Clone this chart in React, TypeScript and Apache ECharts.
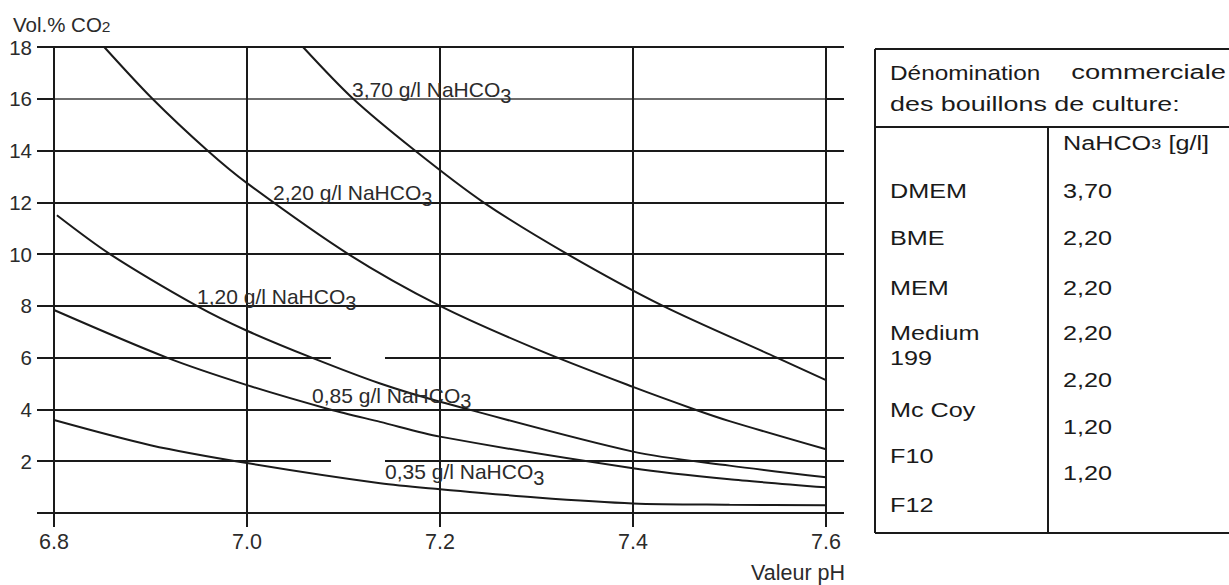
import React, { useEffect, useRef } from "react";
import * as echarts from "echarts";

// ---------- axes ----------
const PH_MIN = 6.8;
const PH_MAX = 7.6;
const PH_STEP = 0.2;
const CO2_MIN = 0;
const CO2_MAX = 18;
const CO2_STEP = 2;

// ---------- curves (pH, Vol.% CO2) ----------
const ph_370 = [7.058, 7.11, 7.174, 7.245, 7.332, 7.431, 7.549, 7.6];
const co2_370 = [18, 16, 14, 12, 10, 8, 6, 5.13];

const ph_220 = [6.852, 6.902, 6.959, 7.0, 7.105, 7.2, 7.3, 7.4, 7.464, 7.5, 7.6];
const co2_220 = [18, 16, 14, 12.74, 10, 8.0, 6.33, 4.87, 4.0, 3.55, 2.46];

const ph_120 = [6.803, 6.858, 6.948, 7.0, 7.067, 7.138, 7.2, 7.4, 7.5, 7.6];
const co2_120 = [11.5, 10, 8, 7.04, 6, 5.0, 4.3, 2.37, 1.83, 1.38];

const ph_085 = [6.8, 6.917, 7.0, 7.086, 7.138, 7.2, 7.4, 7.5, 7.6];
const co2_085 = [7.84, 6, 4.94, 4.0, 3.52, 2.95, 1.73, 1.3, 0.99];

const ph_035 = [6.8, 6.9, 7.0, 7.138, 7.2, 7.3, 7.4, 7.5, 7.602];
const co2_035 = [3.59, 2.62, 1.93, 1.15, 0.92, 0.6, 0.37, 0.32, 0.3];

const curveConc = ["3,70", "2,20", "1,20", "0,85", "0,35"];

// ---------- table ----------
const tableTitle1a = "Dénomination";
const tableTitle1b = "commerciale";
const tableTitle2 = "des bouillons de culture:";
const mediaNames = ["DMEM", "BME", "MEM", "Medium\n199", "Mc Coy", "F10", "F12"];
const mediaValues = ["3,70", "2,20", "2,20", "2,20", "2,20", "1,20", "1,20"];

const FONT = "'Liberation Sans', Arial, Helvetica, sans-serif";
const INK = "#1a1a1a";
const TXT = "#2b2b2b";

export default function App() {
  const ref = useRef<HTMLDivElement>(null);

  useEffect(() => {
    if (!ref.current) return;
    const chart = echarts.init(ref.current, null, { renderer: "svg" });

    const curves = [
      { ph: ph_370, co2: co2_370 },
      { ph: ph_220, co2: co2_220 },
      { ph: ph_120, co2: co2_120 },
      { ph: ph_085, co2: co2_085 },
      { ph: ph_035, co2: co2_035 },
    ];

    const splitColors = Array.from({ length: (CO2_MAX - CO2_MIN) / CO2_STEP + 1 }, (_, i) =>
      CO2_MIN + i * CO2_STEP === 16 ? "#6e6e6e" : INK
    );

    const xBase = {
      type: "value" as const,
      min: PH_MIN,
      max: PH_MAX,
      interval: PH_STEP,
    };
    const yBase = {
      type: "value" as const,
      min: CO2_MIN,
      max: CO2_MAX,
      interval: CO2_STEP,
    };

    chart.setOption({
      animation: false,
      grid: { left: 54, right: 403, top: 47, bottom: 72, containLabel: false },
      xAxis: [
        {
          ...xBase,
          position: "bottom",
          axisLine: { show: true, lineStyle: { color: INK, width: 2 } },
          axisTick: { show: true, length: 14, lineStyle: { color: INK, width: 2 } },
          axisLabel: {
            fontSize: 21.5,
            color: TXT,
            margin: 18,
            fontFamily: FONT,
            formatter: (v: number) => v.toFixed(1),
          },
          splitLine: { show: true, lineStyle: { color: INK, width: 2 } },
        },
        {
          ...xBase,
          position: "top",
          axisLine: { show: true, lineStyle: { color: INK, width: 2 } },
          axisTick: { show: true, length: 14, lineStyle: { color: INK, width: 2 } },
          axisLabel: { show: false },
          splitLine: { show: false },
        },
      ],
      yAxis: [
        {
          ...yBase,
          position: "left",
          axisLine: { show: true, lineStyle: { color: INK, width: 2 } },
          axisTick: { show: true, length: 17, lineStyle: { color: INK, width: 2 } },
          axisLabel: {
            fontSize: 20.5,
            color: TXT,
            margin: 22,
            fontFamily: FONT,
            formatter: (v: number) => (v === 0 ? "" : String(v)),
          },
          splitLine: { show: true, lineStyle: { color: splitColors, width: 2 } },
        },
        {
          ...yBase,
          position: "right",
          axisLine: { show: true, lineStyle: { color: INK, width: 2 } },
          axisTick: { show: true, length: 18, lineStyle: { color: INK, width: 2 } },
          axisLabel: { show: false },
          splitLine: { show: false },
        },
      ],
      series: curves.map((c, k) => ({
        name: curveConc[k] + " g/l NaHCO3",
        type: "line",
        xAxisIndex: 0,
        yAxisIndex: 0,
        data: c.ph.map((p, i) => [p, c.co2[i]]),
        smooth: 0.3,
        symbol: "none",
        silent: true,
        z: 3,
        lineStyle: { color: INK, width: 2 },
      })),
    });

    const toPx = (x: number, y: number) =>
      chart.convertToPixel({ xAxisIndex: 0, yAxisIndex: 0 }, [x, y]) as number[];

    const elements: any[] = [];

    // gaps in the 6 and 2 grid lines
    [6, 2].forEach((v) => {
      const a = toPx(7.087, v);
      const b = toPx(7.143, v);
      elements.push({
        type: "rect",
        z: 1,
        silent: true,
        shape: { x: a[0], y: a[1] - 3, width: b[0] - a[0], height: 6 },
        style: { fill: "#ffffff" },
      });
    });

    const subText = (
      x: number,
      baseline: number,
      main: string,
      sub: string,
      fs: number,
      subFs: number,
      shift: number,
      color: string,
      scaleX = 1,
      after?: string
    ) => ({
      type: "text",
      x,
      y: baseline - 0.35 * fs,
      z: 10,
      scaleX,
      silent: true,
      style: {
        text: `{m|${main}}{s|${sub}}` + (after ? `{g|${after}}` : ""),
        align: "left",
        verticalAlign: "middle",
        fontSize: fs,
        fontFamily: FONT,
        fill: color,
        rich: {
          m: { fontSize: fs, fontFamily: FONT, fill: color },
          s: { fontSize: subFs, fontFamily: FONT, fill: color, padding: [shift * 2, 0, 0, 0] },
          g: { fontSize: fs, fontFamily: FONT, fill: color, padding: [0, 0, 0, 6] },
        },
      },
    });

    const plainText = (
      x: number,
      baseline: number,
      text: string,
      fs: number,
      align: string,
      color: string,
      scaleX = 1
    ) => ({
      type: "text",
      x,
      y: baseline - 0.35 * fs,
      z: 10,
      scaleX,
      silent: true,
      style: {
        text,
        align,
        verticalAlign: "middle",
        fontSize: fs,
        fontFamily: FONT,
        fill: color,
      },
    });

    // curve labels
    const labelPos = [
      [352, 97],
      [273, 200],
      [197, 304],
      [312, 402.7],
      [385, 479.3],
    ];
    curveConc.forEach((c, i) => {
      elements.push(
        subText(labelPos[i][0], labelPos[i][1], `${c} g/l NaHCO`, "3", 21, 20, 6, TXT)
      );
    });

    // axis titles
    elements.push(subText(13, 31.7, "Vol.% CO", "2", 20.5, 15.5, 1.5, TXT));
    elements.push(plainText(845, 580.5, "Valeur pH", 21.5, "right", TXT));

    // table frame
    const tl = 875, tr = 1232, tt = 49, tm = 127, tb = 533, tv = 1048;
    const segs = [
      [tl, tt, tr, tt],
      [tl, tt, tl, tb],
      [tl, tm, tr, tm],
      [tv, tm, tv, tb],
      [tl, tb, tr, tb],
    ];
    segs.forEach((s) =>
      elements.push({
        type: "line",
        silent: true,
        shape: { x1: s[0], y1: s[1], x2: s[2], y2: s[3] },
        style: { stroke: INK, lineWidth: 2 },
      })
    );

    const TS = 1.2;
    const TFS = 21;
    elements.push(plainText(890, 79.5, tableTitle1a, TFS, "left", INK, 1.16));
    elements.push(plainText(1226, 79.5, tableTitle1b, TFS, "right", INK, 1.3));
    elements.push(plainText(890, 111, tableTitle2, TFS, "left", INK, 1.28));
    elements.push(subText(1063, 150, "NaHCO", "3", TFS, 15, 1.5, INK, TS, "[g/l]"));

    const nameBaselines = [198.3, 245, 295, 340, 365, 416.7, 463.3, 511.7];
    let li = 0;
    mediaNames.forEach((n) => {
      n.split("\n").forEach((line) => {
        elements.push(plainText(890, nameBaselines[li], line, TFS, "left", INK, TS));
        li++;
      });
    });
    const valueBaselines = [198.3, 245, 295, 340, 386.7, 434, 480];
    mediaValues.forEach((v, i) => {
      elements.push(plainText(1063, valueBaselines[i], v, TFS, "left", INK, TS));
    });

    chart.setOption({ graphic: { elements } });

    return () => chart.dispose();
  }, []);

  return (
    <div
      ref={ref}
      style={{ position: "absolute", left: 0, top: 0, width: 1229, height: 585, background: "#fff" }}
    />
  );
}
